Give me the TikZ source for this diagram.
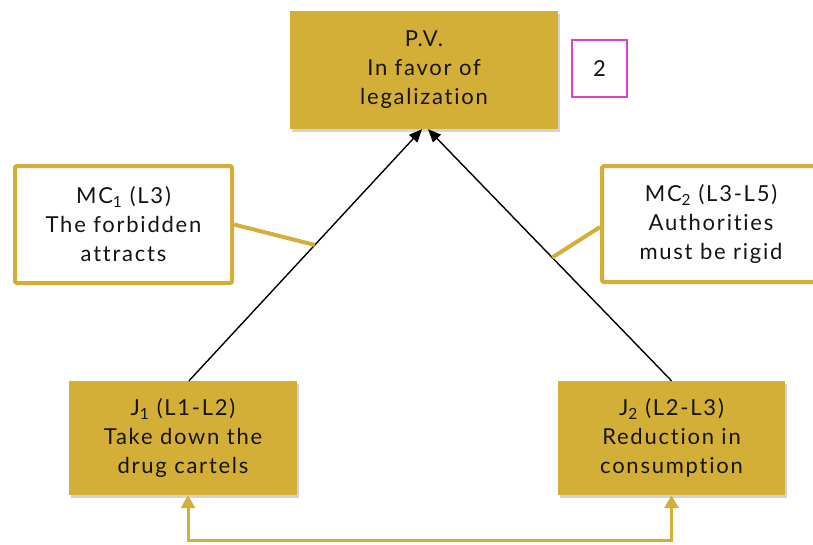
\documentclass[tikz,border=0pt]{standalone}
\usepackage{fontspec}
\setmainfont[LetterSpace=8,RawFeature=-liga]{Lato}
\usetikzlibrary{arrows.meta,shadows,calc}
\definecolor{gold}{RGB}{212,175,55}
\definecolor{mag}{RGB}{222,64,204}
\definecolor{ink}{RGB}{22,20,14}
\begin{document}
\begin{tikzpicture}[x=1pt,y=-1pt,
  txt/.style={align=center,font=\fontsize{22}{29}\selectfont,text=ink,inner sep=0pt},
  goldbox/.style={txt,rectangle,fill=gold,draw=none,
    drop shadow={opacity=0.35,shadow xshift=1.5pt,shadow yshift=-3pt,fill=gray}},
  mcbox/.style={txt,rectangle,fill=white,draw=gold,line width=4pt,rounded corners=2pt},
  numbox/.style={txt,rectangle,fill=white,draw=mag,line width=2pt},
  blackarrow/.style={-{Triangle[length=13pt,width=11pt]},line width=1.4pt,black},
  tie/.style={gold,line width=4pt},
  bothway/.style={{Triangle[length=13pt,width=14pt]}-{Triangle[length=13pt,width=14pt]},gold,line width=3pt}]
\useasboundingbox (0,0) rectangle (813,544);

\node[goldbox,minimum width=268pt,minimum height=118pt] (pv) at (424,70) {P.V.\\In favor of\\legalization};
\node[numbox,minimum width=55pt,minimum height=57pt] (num) at (599.5,68.5) {2};
\node[mcbox,minimum width=217pt,minimum height=117pt] (mc1) at (123.5,224.5) {MC\textsubscript{1} (L3)\\The forbidden\\attracts};
\node[mcbox,minimum width=218pt,minimum height=116pt] (mc2) at (711,224) {MC\textsubscript{2} (L3-L5)\\Authorities\\must be rigid};
\node[goldbox,minimum width=228pt,minimum height=114pt] (j1) at (183,438) {J\textsubscript{1} (L1-L2)\\Take down the\\drug cartels};
\node[goldbox,minimum width=227pt,minimum height=114pt] (j2) at (671.5,438) {J\textsubscript{2} (L2-L3)\\Reduction in\\consumption};

\draw[blackarrow] ([xshift=6pt]j1.north) -- coordinate[pos=0.54] (c1) ([xshift=-2pt]pv.south);
\draw[blackarrow] (j2.north) -- coordinate[pos=0.49] (c2) ([xshift=4pt]pv.south);

\draw[tie] (mc1.east) -- (c1);
\draw[tie] ([yshift=-3pt]mc2.west) -- (c2);

\draw[bothway] ([xshift=5pt]j1.south) -- ++(0,45) -| (j2.south);
\end{tikzpicture}
\end{document}
